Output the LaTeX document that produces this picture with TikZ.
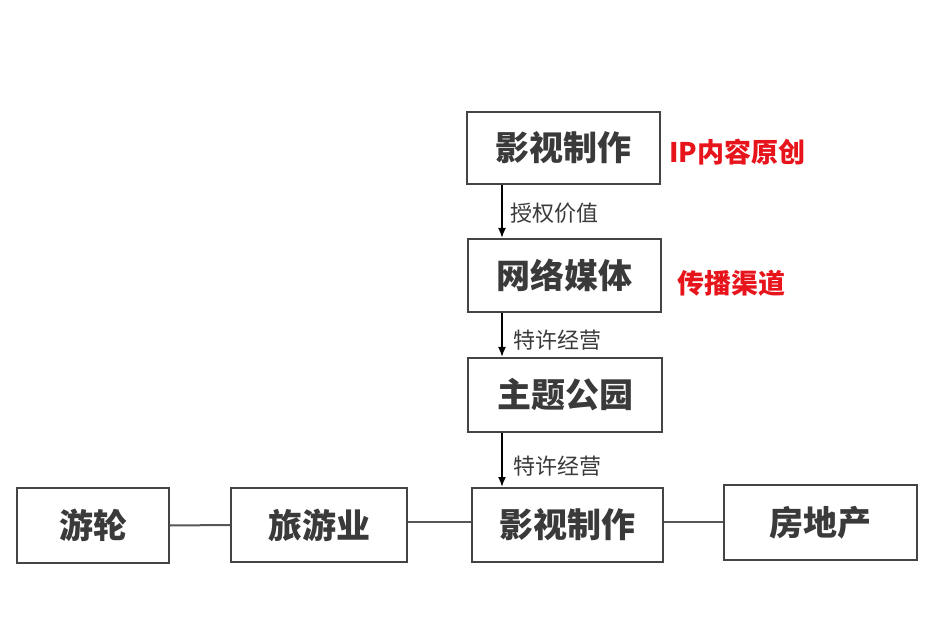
\documentclass[tikz,border=0pt]{standalone}
\usepackage{fontspec}
\newfontfamily\cjk{Noto Sans CJK SC}
\usetikzlibrary{arrows.meta}
\definecolor{boxline}{HTML}{444444}
\definecolor{boxtext}{HTML}{3A3A3A}
\definecolor{redtext}{HTML}{E8141C}
\tikzset{
  box/.style={draw=boxline, line width=2pt, rectangle, inner sep=0pt, text=boxtext,
    font=\cjk\bfseries\fontsize{34}{40}\selectfont},
  arr/.style={draw=black, line width=1.8pt, -{Latex[length=10pt,width=8pt]}},
  link/.style={draw=boxline!90, line width=2pt},
  elabel/.style={anchor=west, text=boxtext, inner sep=0pt, font=\cjk\fontsize{22}{26}\selectfont},
  redlabel/.style={anchor=west, text=redtext, inner sep=0pt, font=\cjk\bfseries\fontsize{27}{32}\selectfont}
}
\begin{document}
\begin{tikzpicture}[x=1pt,y=-1pt]
\useasboundingbox (0,0) rectangle (940,644);
\fill[white] (0,0) rectangle (940,644);
\node[box, minimum width=193pt, minimum height=72pt] (top) at (563.5,148) {影视制作};
\node[box, minimum width=193pt, minimum height=73pt] (net) at (564.5,275.5) {网络媒体};
\node[box, minimum width=194pt, minimum height=74pt] (park) at (565,395) {主题公园};
\node[box, minimum width=191pt, minimum height=74pt] (film) at (567.5,525) {影视制作};
\node[box, minimum width=152pt, minimum height=75pt] (cruise) at (93,525.5) {游轮};
\node[box, minimum width=176pt, minimum height=74pt] (travel) at (319,525) {旅游业};
\node[box, minimum width=193pt, minimum height=75pt] (estate) at (820.5,522.5) {房地产};
\coordinate (ax) at (502,0);
\draw[arr] (top.south -| ax) -- (net.north -| ax);
\draw[arr] (net.south -| ax) -- (park.north -| ax);
\draw[arr] (park.south -| ax) -- (film.north -| ax);
\node[elabel] (l1) at (510,213) {授权价值};
\node[elabel] (l2) at (513,340) {特许经营};
\node[elabel] (l3) at (513,466) {特许经营};
\node[redlabel] (r1) at (669,152) {IP内容原创};
\node[redlabel] (r2) at (677,283) {传播渠道};
\draw[link] (cruise.east) -- (travel.west);
\draw[link] (travel.east |- 0,522) -- (film.west |- 0,522);
\draw[link] (film.east |- 0,522) -- (estate.west |- 0,522);
\end{tikzpicture}
\end{document}
